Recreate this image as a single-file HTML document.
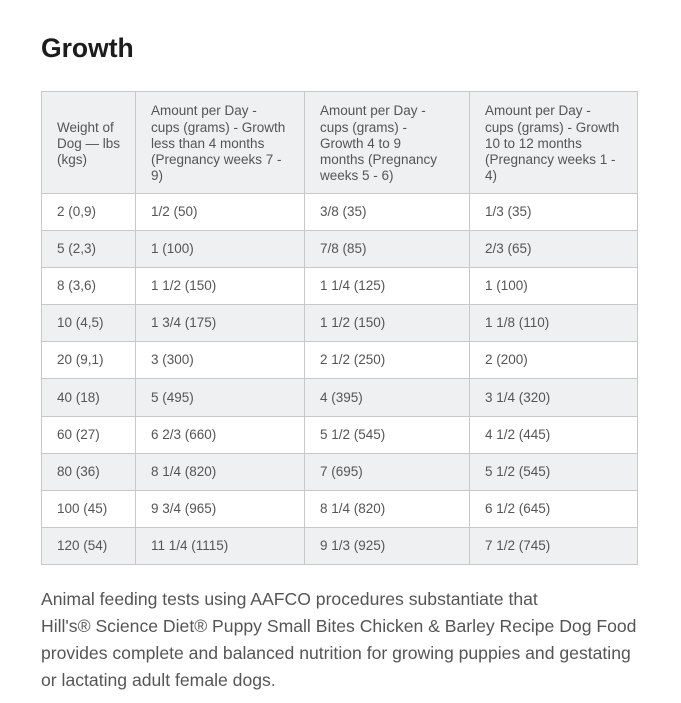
<!DOCTYPE html>
<html><head><meta charset="utf-8">
<style>
html,body{margin:0;padding:0;background:#fff;width:681px;height:703px;overflow:hidden;position:relative;font-family:"Liberation Sans",Arial,sans-serif;}
h1{position:absolute;left:41px;top:33px;margin:0;font-size:26.5px;line-height:30px;font-weight:bold;color:#1c1c1c;}
.bg{position:absolute;left:41px;width:597px;background:#eff0f1;}
.h{position:absolute;left:41px;width:597px;height:1px;background:#c8c8c8;}
.v{position:absolute;top:91px;width:1px;height:474px;background:#c8c8c8;}
.c{position:absolute;display:flex;align-items:center;font-size:13.5px;color:#555;white-space:nowrap;line-height:16.3px;padding-top:1px;}
.hd{padding-top:3px;}
p{position:absolute;left:41px;top:586px;margin:0;font-size:17.6px;line-height:27px;color:#555;white-space:nowrap;}
</style></head><body>
<h1>Growth</h1>

<div class="bg" style="top:91px;height:102px"></div>
<div class="bg" style="top:230.1px;height:37.1px"></div>
<div class="bg" style="top:304.3px;height:37.1px"></div>
<div class="bg" style="top:378.5px;height:37.1px"></div>
<div class="bg" style="top:452.7px;height:37.1px"></div>
<div class="bg" style="top:526.9px;height:37.1px"></div>

<div class="h" style="top:91px"></div>
<div class="h" style="top:193px"></div>
<div class="h" style="top:230px"></div>
<div class="h" style="top:267px"></div>
<div class="h" style="top:304px"></div>
<div class="h" style="top:341px"></div>
<div class="h" style="top:378px"></div>
<div class="h" style="top:416px"></div>
<div class="h" style="top:453px"></div>
<div class="h" style="top:490px"></div>
<div class="h" style="top:527px"></div>
<div class="h" style="top:564px"></div>

<div class="v" style="left:41px"></div>
<div class="v" style="left:135px"></div>
<div class="v" style="left:304px"></div>
<div class="v" style="left:469px"></div>
<div class="v" style="left:637px"></div>

<!-- header -->
<div class="c hd" style="left:57px;top:91px;height:100px">Weight of<br>Dog — lbs<br>(kgs)</div>
<div class="c hd" style="left:151px;top:91px;height:100px">Amount per Day -<br>cups (grams) - Growth<br>less than 4 months<br>(Pregnancy weeks 7 -<br>9)</div>
<div class="c hd" style="left:320px;top:91px;height:100px">Amount per Day -<br>cups (grams) -<br>Growth 4 to 9<br>months (Pregnancy<br>weeks 5 - 6)</div>
<div class="c hd" style="left:485px;top:91px;height:100px">Amount per Day -<br>cups (grams) - Growth<br>10 to 12 months<br>(Pregnancy weeks 1 -<br>4)</div>

<!-- rows -->
<div class="c" style="left:57px;top:193px;height:37px">2 (0,9)</div>
<div class="c" style="left:151px;top:193px;height:37px">1/2 (50)</div>
<div class="c" style="left:320px;top:193px;height:37px">3/8 (35)</div>
<div class="c" style="left:485px;top:193px;height:37px">1/3 (35)</div>

<div class="c" style="left:57px;top:230px;height:37px">5 (2,3)</div>
<div class="c" style="left:151px;top:230px;height:37px">1 (100)</div>
<div class="c" style="left:320px;top:230px;height:37px">7/8 (85)</div>
<div class="c" style="left:485px;top:230px;height:37px">2/3 (65)</div>

<div class="c" style="left:57px;top:267px;height:37px">8 (3,6)</div>
<div class="c" style="left:151px;top:267px;height:37px">1 1/2 (150)</div>
<div class="c" style="left:320px;top:267px;height:37px">1 1/4 (125)</div>
<div class="c" style="left:485px;top:267px;height:37px">1 (100)</div>

<div class="c" style="left:57px;top:304px;height:37px">10 (4,5)</div>
<div class="c" style="left:151px;top:304px;height:37px">1 3/4 (175)</div>
<div class="c" style="left:320px;top:304px;height:37px">1 1/2 (150)</div>
<div class="c" style="left:485px;top:304px;height:37px">1 1/8 (110)</div>

<div class="c" style="left:57px;top:341px;height:37px">20 (9,1)</div>
<div class="c" style="left:151px;top:341px;height:37px">3 (300)</div>
<div class="c" style="left:320px;top:341px;height:37px">2 1/2 (250)</div>
<div class="c" style="left:485px;top:341px;height:37px">2 (200)</div>

<div class="c" style="left:57px;top:378px;height:38px">40 (18)</div>
<div class="c" style="left:151px;top:378px;height:38px">5 (495)</div>
<div class="c" style="left:320px;top:378px;height:38px">4 (395)</div>
<div class="c" style="left:485px;top:378px;height:38px">3 1/4 (320)</div>

<div class="c" style="left:57px;top:416px;height:37px">60 (27)</div>
<div class="c" style="left:151px;top:416px;height:37px">6 2/3 (660)</div>
<div class="c" style="left:320px;top:416px;height:37px">5 1/2 (545)</div>
<div class="c" style="left:485px;top:416px;height:37px">4 1/2 (445)</div>

<div class="c" style="left:57px;top:453px;height:37px">80 (36)</div>
<div class="c" style="left:151px;top:453px;height:37px">8 1/4 (820)</div>
<div class="c" style="left:320px;top:453px;height:37px">7 (695)</div>
<div class="c" style="left:485px;top:453px;height:37px">5 1/2 (545)</div>

<div class="c" style="left:57px;top:490px;height:37px">100 (45)</div>
<div class="c" style="left:151px;top:490px;height:37px">9 3/4 (965)</div>
<div class="c" style="left:320px;top:490px;height:37px">8 1/4 (820)</div>
<div class="c" style="left:485px;top:490px;height:37px">6 1/2 (645)</div>

<div class="c" style="left:57px;top:527px;height:37px">120 (54)</div>
<div class="c" style="left:151px;top:527px;height:37px">11 1/4 (1115)</div>
<div class="c" style="left:320px;top:527px;height:37px">9 1/3 (925)</div>
<div class="c" style="left:485px;top:527px;height:37px">7 1/2 (745)</div>

<p>Animal feeding tests using AAFCO procedures substantiate that<br>Hill's® Science Diet® Puppy Small Bites Chicken &amp; Barley Recipe Dog Food<br>provides complete and balanced nutrition for growing puppies and gestating<br>or lactating adult female dogs.</p>
</body></html>
